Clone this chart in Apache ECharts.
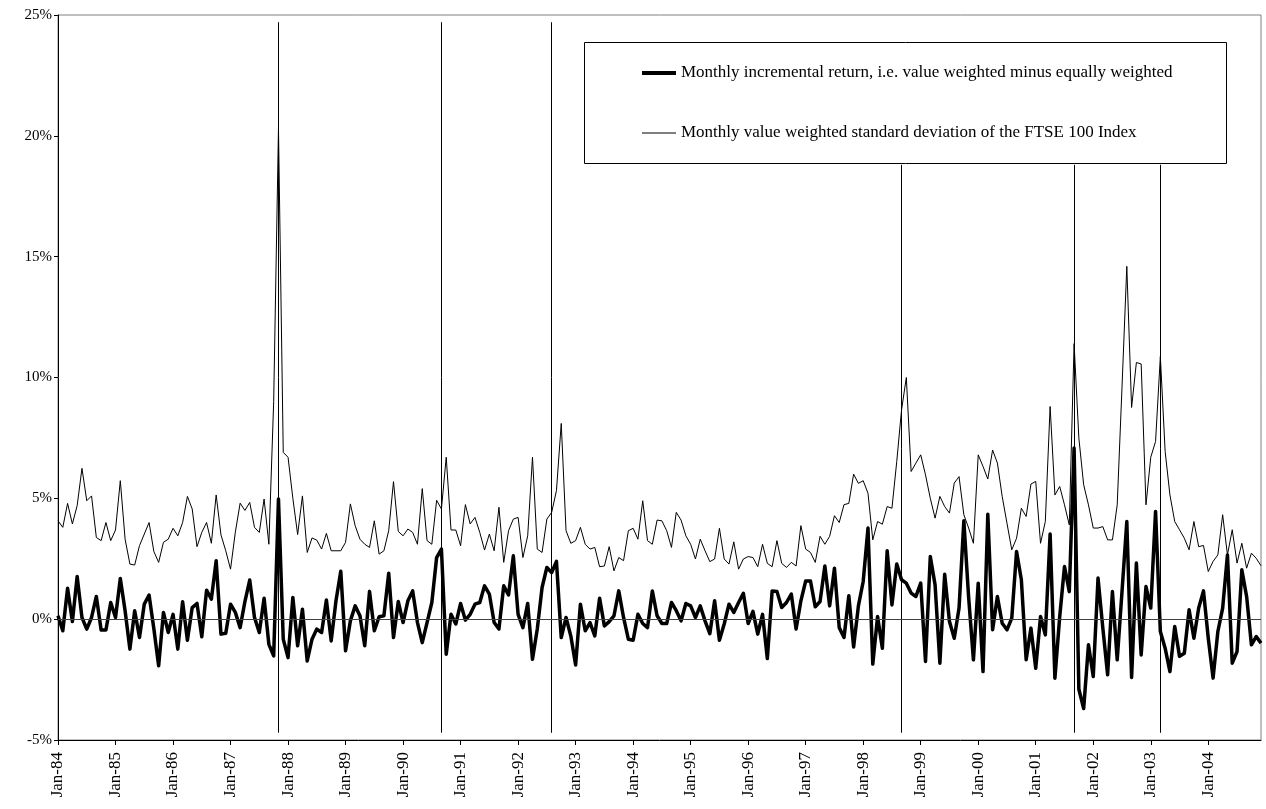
<!DOCTYPE html>
<html>
<head>
<meta charset="utf-8">
<script src="https://cdn.jsdelivr.net/npm/echarts@6/dist/echarts.min.js"></script>
<style>
html,body{margin:0;padding:0;background:#fff;}
#chart{width:1266px;height:809px;}
</style>
</head>
<body>
<div id="chart"></div>
<script>
// Monthly categories Jan-84 .. Dec-04
const monthNames = ['Jan','Feb','Mar','Apr','May','Jun','Jul','Aug','Sep','Oct','Nov','Dec'];
const startYear = 1984, endYear = 2004;
const categories = [];
for (let y = startYear; y <= endYear; y++) {
  for (let m = 0; m < 12; m++) {
    categories.push(monthNames[m] + '-' + String(y % 100).padStart(2, '0'));
  }
}

// Monthly incremental return (value weighted minus equally weighted), %
const incrementalReturn = [
  0.14,-0.48,1.28,-0.1,1.77,0.07,-0.41,0.07,0.94,-0.45,-0.45,0.69,
  0.07,1.68,0.35,-1.24,0.35,-0.76,0.62,1.0,-0.4,-1.93,0.28,-0.55,
  0.2,-1.24,0.72,-0.87,0.48,0.65,-0.73,1.2,0.83,2.42,-0.62,-0.58,
  0.62,0.28,-0.35,0.73,1.62,0.07,-0.55,0.87,-1.04,-1.52,4.97,-0.83,
  -1.59,0.9,-1.1,0.41,-1.73,-0.83,-0.41,-0.55,0.79,-0.9,0.76,1.98,
  -1.31,-0.07,0.55,0.14,-1.1,1.15,-0.48,0.1,0.14,1.9,-0.76,0.73,
  -0.14,0.76,1.17,-0.14,-0.97,-0.14,0.69,2.55,2.9,-1.45,0.2,-0.2,
  0.65,-0.04,0.2,0.62,0.69,1.38,1.04,-0.14,-0.41,1.38,1.0,2.62,
  0.2,-0.35,0.65,-1.66,-0.41,1.31,2.14,1.93,2.39,-0.76,0.07,-0.7,
  -1.9,0.62,-0.48,-0.14,-0.69,0.87,-0.28,-0.1,0.14,1.17,0.07,-0.83,
  -0.87,0.2,-0.18,-0.35,1.17,0.14,-0.18,-0.18,0.69,0.35,-0.07,0.65,
  0.55,0.07,0.55,-0.07,-0.6,0.76,-0.87,-0.2,0.62,0.28,0.69,1.07,
  -0.18,0.32,-0.62,0.2,-1.63,1.17,1.15,0.48,0.69,1.04,-0.41,0.76,
  1.58,1.58,0.51,0.73,2.2,0.55,2.11,-0.35,-0.76,0.97,-1.15,0.55,
  1.56,3.77,-1.86,0.11,-1.2,2.83,0.59,2.28,1.63,1.49,1.08,0.94,
  1.49,-1.75,2.59,1.42,-1.82,1.86,-0.1,-0.79,0.46,4.07,0.9,-1.68,
  1.49,-2.17,4.34,-0.44,0.94,-0.17,-0.44,0.04,2.8,1.63,-1.68,-0.37,
  -2.03,0.11,-0.65,3.52,-2.44,0.1,2.18,1.14,7.08,-2.9,-3.7,-1.06,
  -2.37,1.7,-0.37,-2.3,1.14,-1.68,1.14,4.04,-2.41,2.32,-1.48,1.35,
  0.46,4.46,-0.51,-1.2,-2.17,-0.3,-1.54,-1.41,0.39,-0.79,0.46,1.17,
  -0.79,-2.44,-0.51,0.46,2.66,-1.82,-1.34,2.04,0.94,-1.06,-0.72,-0.99
];

// Monthly value weighted standard deviation of the FTSE 100 Index, %
const stdDeviation = [
  4.07,3.8,4.79,3.94,4.7,6.24,4.9,5.1,3.38,3.25,4.0,3.25,
  3.69,5.73,3.31,2.28,2.24,3.04,3.52,4.0,2.8,2.35,3.18,3.31,
  3.76,3.45,4.0,5.08,4.56,3.0,3.59,4.0,3.14,5.14,3.49,2.83,
  2.07,3.6,4.8,4.5,4.83,3.8,3.59,4.97,3.1,9.0,20.3,6.9,
  6.7,5.0,3.5,5.1,2.76,3.36,3.27,2.9,3.55,2.83,2.83,2.83,
  3.18,4.77,3.87,3.31,3.1,2.97,4.07,2.69,2.83,3.66,5.69,3.63,
  3.45,3.73,3.59,3.1,5.4,3.25,3.1,4.92,4.56,6.7,3.69,3.69,
  3.04,4.74,3.94,4.21,3.59,2.86,3.52,2.83,4.63,2.35,3.66,4.14,
  4.21,2.55,3.45,6.7,2.9,2.76,4.14,4.42,5.32,8.1,3.66,3.14,
  3.25,3.8,3.1,2.9,2.97,2.17,2.2,3.0,2.0,2.55,2.42,3.66,
  3.76,3.31,4.9,3.25,3.1,4.1,4.07,3.66,2.97,4.42,4.1,3.45,
  3.1,2.49,3.31,2.83,2.38,2.49,3.76,2.49,2.28,3.2,2.07,2.49,
  2.59,2.55,2.17,3.1,2.31,2.17,3.25,2.31,2.14,2.35,2.2,3.87,
  2.9,2.76,2.35,3.43,3.1,3.43,4.28,4.0,4.74,4.79,6.0,5.62,
  5.73,5.21,3.28,4.04,3.93,4.66,4.59,6.52,8.66,10.0,6.11,6.46,
  6.8,5.97,5.0,4.18,5.08,4.66,4.39,5.63,5.9,4.32,3.77,3.14,
  6.8,6.32,5.8,7.0,6.46,5.08,3.97,2.87,3.35,4.59,4.25,5.59,
  5.7,3.14,4.04,8.8,5.14,5.49,4.73,3.9,11.4,7.49,5.56,4.73,
  3.77,3.77,3.83,3.28,3.28,4.73,9.6,14.6,8.76,10.62,10.56,4.73,
  6.7,7.35,10.87,6.94,5.14,4.04,3.7,3.35,2.87,4.04,3.0,3.05,
  1.97,2.39,2.66,4.32,2.66,3.7,2.32,3.14,2.11,2.73,2.52,2.21
];

// Event marker months and their vertical extent (%)
const eventMonths = ['Nov-87','Sep-90','Aug-92','Sep-98','Sep-01','Mar-03'];
const eventLow  = [-4.7, -4.7, -4.7, -4.7, -4.7, -4.7];
const eventHigh = [24.7, 24.7, 24.7, 18.8, 18.8, 18.8];

// Y-axis ticks
const yMin = -5, yMax = 25, yStep = 5;

const NAME1 = 'Monthly incremental return, i.e. value weighted minus equally weighted';
const NAME2 = 'Monthly value weighted standard deviation of the FTSE 100 Index';
const FONT = 'Liberation Serif';

const chart = echarts.init(document.getElementById('chart'), null, {renderer: 'canvas'});

const eventLineData = eventMonths.map((m, k) => [
  {coord: [m, eventLow[k]]},
  {coord: [m, eventHigh[k]]}
]);

const option = {
  animation: false,
  backgroundColor: '#fff',
  grid: {
    left: 58, right: 5, top: 15, bottom: 69,
    show: true, borderColor: '#808080', borderWidth: 1, containLabel: false
  },
  xAxis: {
    type: 'category',
    data: categories,
    boundaryGap: false,
    axisLine: {show: true, onZero: false, lineStyle: {color: '#000', width: 1}},
    axisTick: {show: true, inside: false, length: 5, interval: (i) => i % 12 === 0, lineStyle: {color: '#000'}},
    axisLabel: {
      show: true, rotate: 90, interval: (i) => i % 12 === 0, margin: 12,
      fontFamily: FONT, fontSize: 17, color: '#000'
    },
    splitLine: {show: false}
  },
  yAxis: {
    type: 'value',
    min: yMin, max: yMax, interval: yStep,
    axisLine: {show: true, lineStyle: {color: '#000', width: 1}},
    axisTick: {show: true, inside: false, length: 4, lineStyle: {color: '#000'}},
    axisLabel: {formatter: '{value}%', fontFamily: FONT, fontSize: 15, color: '#000', margin: 6},
    splitLine: {show: false}
  },
  legend: [
    {
      data: [{name: NAME1, icon: 'rect'}],
      left: 642, top: 63, padding: 0, itemGap: 0,
      itemWidth: 34, itemHeight: 4,
      selectedMode: false, z: 6,
      textStyle: {fontFamily: FONT, fontSize: 17, color: '#000', lineHeight: 20}
    },
    {
      data: [{name: NAME2, icon: 'rect'}],
      left: 642, top: 123, padding: 0, itemGap: 0,
      itemWidth: 34, itemHeight: 1,
      selectedMode: false, z: 6,
      textStyle: {fontFamily: FONT, fontSize: 17, color: '#000', lineHeight: 20}
    }
  ],
  graphic: [
    {
      type: 'rect', z: 5, silent: true,
      shape: {x: 584.5, y: 42.5, width: 642, height: 121},
      style: {fill: '#fff', stroke: '#000', lineWidth: 1}
    }
  ],
  series: [
    {
      name: NAME2,
      type: 'line',
      data: stdDeviation,
      symbol: 'none',
      color: '#000',
      itemStyle: {color: '#000'},
      lineStyle: {color: '#000', width: 1},
      z: 2,
      markLine: {
        silent: true, symbol: 'none', animation: false,
        label: {show: false},
        lineStyle: {color: '#000', width: 1, type: 'solid'},
        data: eventLineData.concat([{yAxis: 0, lineStyle: {color: '#404040', width: 1}}])
      }
    },
    {
      name: NAME1,
      type: 'line',
      data: incrementalReturn,
      symbol: 'none',
      color: '#000',
      itemStyle: {color: '#000'},
      lineStyle: {color: '#000', width: 3.5, join: 'round'},
      z: 3
    }
  ]
};
chart.setOption(option);
</script>
</body>
</html>
